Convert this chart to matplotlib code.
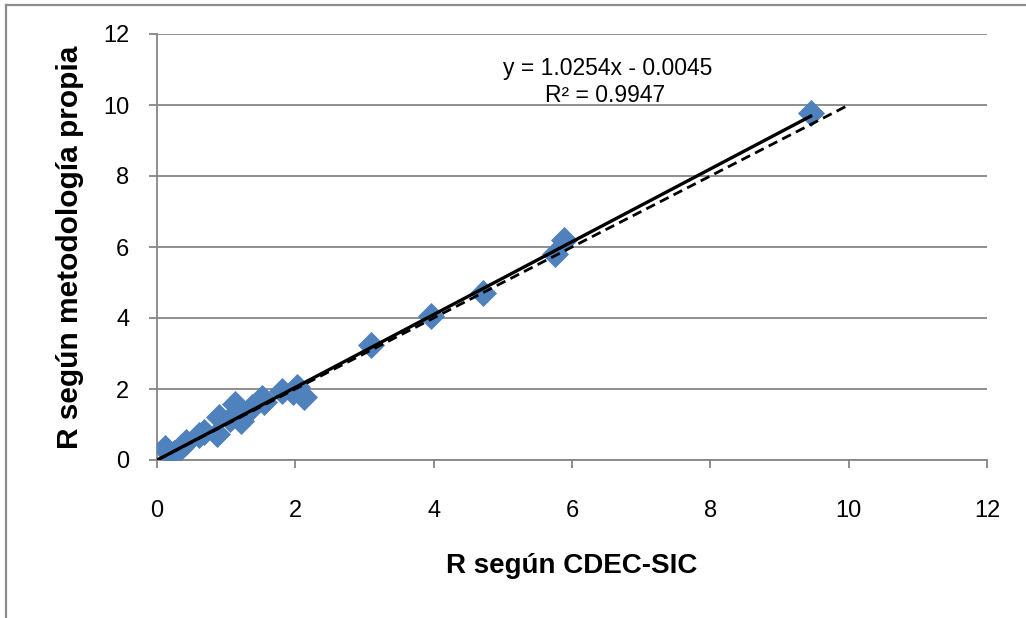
import matplotlib
matplotlib.use("Agg")
import matplotlib.pyplot as plt
import numpy as np
from matplotlib.lines import Line2D

# Data
r_cdec = [0.12, 0.20, 0.25, 0.35, 0.42, 0.60, 0.68, 0.87, 0.90, 1.05, 1.13, 1.22,
          1.38, 1.52, 1.55, 1.80, 1.97, 2.03, 2.13, 3.10, 3.96, 4.72, 5.76, 5.88, 9.45]
r_propia = [0.35, 0.15, 0.20, 0.38, 0.50, 0.70, 0.80, 0.72, 1.22, 1.15, 1.58, 1.10,
            1.50, 1.75, 1.62, 1.95, 1.92, 2.05, 1.77, 3.25, 4.07, 4.70, 5.80, 6.20, 9.78]
slope = 1.0254
intercept = -0.0045
r2 = 0.9947
identity_x = [0, 10]
ticks = [0, 2, 4, 6, 8, 10, 12]

plt.rcParams['font.family'] = ['Liberation Sans', 'DejaVu Sans']

fig = plt.figure(figsize=(10.26, 6.18), dpi=100)
# chart-area border (only top and left edges visible in the reference)
fig.lines.append(Line2D([6/1026, 6/1026], [0, 1-5/618], transform=fig.transFigure,
                        color='#8c8c8c', linewidth=1.6))
fig.lines.append(Line2D([6/1026, 1], [1-5/618, 1-5/618], transform=fig.transFigure,
                        color='#8c8c8c', linewidth=1.6))

ax = fig.add_axes([157/1026, 1-460/618, 830/1026, 426/618])

ax.scatter(r_cdec, r_propia, marker='D', s=190, color='#4F81BD', zorder=3, linewidths=0)
xt = np.array([0, max(r_cdec)])
ax.plot(xt, slope*xt + intercept, color='black', linewidth=2.4, zorder=4)
ax.plot(identity_x, identity_x, color='black', linewidth=2.0, linestyle=(0, (3.5, 2)), zorder=4)

ax.set_xlim(0, 12)
ax.set_ylim(0, 12)
ax.set_xticks(ticks)
ax.set_yticks(ticks)
ax.grid(axis='y', color='#868686', linewidth=1.3)
ax.set_axisbelow(True)
for s in ['top', 'right']:
    ax.spines[s].set_visible(False)
for s in ['left', 'bottom']:
    ax.spines[s].set_color('#868686')
    ax.spines[s].set_linewidth(1.3)
ax.tick_params(axis='both', colors='#868686', length=6, width=1.3, labelcolor='black',
               labelsize=17, direction='out')
ax.tick_params(axis='x', pad=23)
ax.tick_params(axis='y', pad=14)

ax.set_xlabel('R según CDEC-SIC', fontsize=20, fontweight='bold', labelpad=22)
ax.set_ylabel('R según metodología propia', fontsize=21.5, fontweight='bold', labelpad=14)

ax.text(6.52, 11.04, f'y = {slope:.4f}x - {abs(intercept):.4f}', fontsize=16.5, ha='center', va='center')
ax.text(6.48, 10.28, f'R² = {r2:.4f}', fontsize=16.5, ha='center', va='center')

fig.savefig('out.png', dpi=100)
